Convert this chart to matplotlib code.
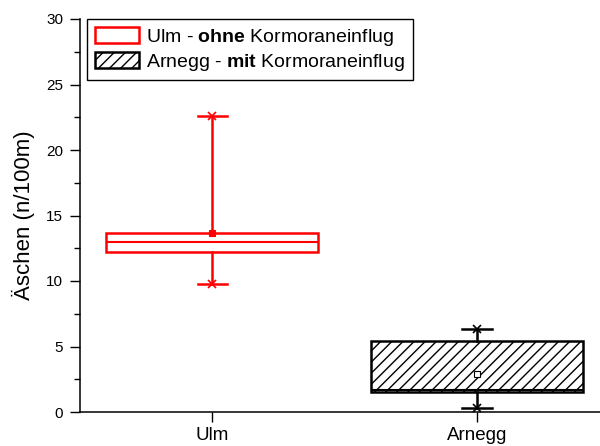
import matplotlib
matplotlib.use('Agg')
import matplotlib.pyplot as plt
from matplotlib.patches import Patch

plt.rcParams['font.family'] = ['Liberation Sans', 'DejaVu Sans']
plt.rcParams['mathtext.fontset'] = 'custom'
plt.rcParams['mathtext.rm'] = 'Liberation Sans'
plt.rcParams['mathtext.bf'] = 'Liberation Sans:bold'
plt.rcParams['hatch.linewidth'] = 1.0

# Kennwerte der beiden Boxplots (n/100m)
orte = ['Ulm', 'Arnegg']
q1 = [12.2, 1.50]
median = [12.95, 1.68]
q3 = [13.7, 5.45]
minimum = [9.75, 0.33]
maximum = [22.6, 6.35]
mittel = [13.7, 2.9]
farben = ['red', 'black']
schraffur = [None, '///']
legende = ['Ulm - $\\mathbf{ohne}$ Kormoraneinflug',
           'Arnegg - $\\mathbf{mit}$ Kormoraneinflug']

fig = plt.figure(figsize=(6.0, 4.46), dpi=100)
ax = fig.add_axes([80 / 600, 34 / 446, 520 / 600, 393 / 446])

for i in range(len(orte)):
    st = [{'q1': q1[i], 'med': median[i], 'q3': q3[i],
           'whislo': minimum[i], 'whishi': maximum[i],
           'mean': mittel[i], 'fliers': [], 'label': orte[i]}]
    c = farben[i]
    ax.bxp(st, positions=[i + 1], widths=0.8, patch_artist=True,
           showmeans=True, showfliers=False,
           boxprops=dict(facecolor='white', edgecolor=c, linewidth=1.8,
                         hatch=schraffur[i]),
           medianprops=dict(color=c, linewidth=1.5),
           whiskerprops=dict(color=c, linewidth=1.8),
           capprops=dict(color=c, linewidth=1.8),
           capwidths=0.11,
           meanprops=dict(marker='s', markersize=4, markeredgecolor=c,
                          markerfacecolor=c if i == 0 else 'white',
                          markeredgewidth=0.8))
    # Kreuze an den Enden der Whisker
    ax.plot([i + 1, i + 1], [minimum[i], maximum[i]], linestyle='none',
            marker='x', markersize=6, color=c, markeredgewidth=1.2)

ax.set_xlim(0.5, 2.465)
ax.set_ylim(0, 30)
ax.set_yticks(range(0, 31, 5))
ax.set_yticks([2.5 + 5 * k for k in range(6)], minor=True)
ax.set_xticks([1, 2])
ax.set_xticklabels(orte)
ax.tick_params(axis='both', which='major', direction='out', length=7,
               width=1)
ax.tick_params(axis='y', which='major', labelsize=11, pad=5)
ax.tick_params(axis='x', which='major', labelsize=13.5, pad=4)
ax.tick_params(axis='y', which='minor', direction='out', length=4, width=1)
for s in ['top', 'right']:
    ax.spines[s].set_visible(False)
for s in ['left', 'bottom']:
    ax.spines[s].set_linewidth(1.1)

ax.set_ylabel('Äschen (n/100m)', fontsize=16, labelpad=8)

handles = [Patch(facecolor='white', edgecolor='red', linewidth=1.8),
           Patch(facecolor='white', edgecolor='black', linewidth=1.8,
                 hatch='///')]
leg = ax.legend(handles, legende, loc='upper left',
                bbox_to_anchor=(0.013, 1.0), borderaxespad=0,
                fontsize=14, fancybox=False, framealpha=1,
                edgecolor='black', handlelength=2.3, handleheight=0.85,
                labelspacing=0.2, handletextpad=0.35, borderpad=0.4)
leg.get_frame().set_linewidth(1.0)

fig.savefig('out.png', dpi=100)
